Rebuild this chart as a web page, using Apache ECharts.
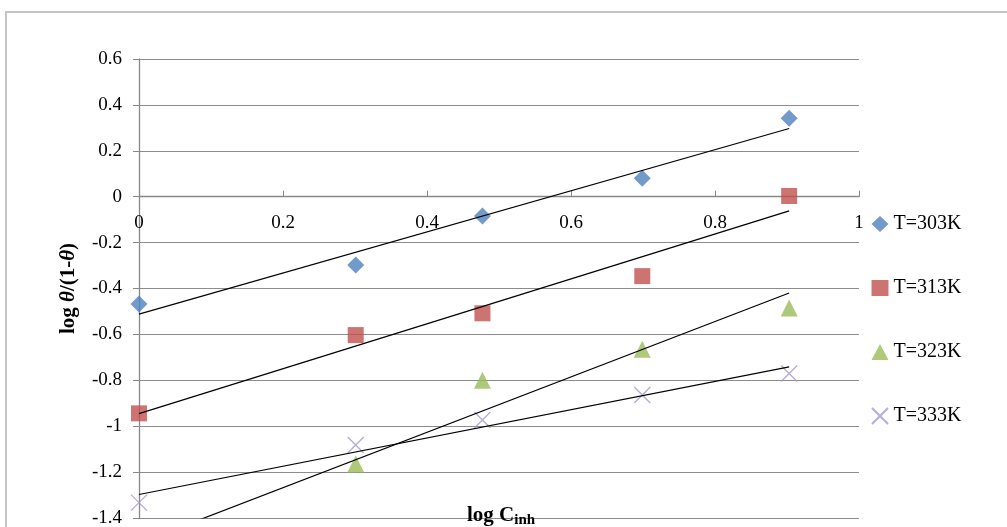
<!DOCTYPE html>
<html>
<head>
<meta charset="utf-8">
<script src="https://cdn.jsdelivr.net/npm/echarts@6/dist/echarts.min.js"></script>
<style>
  html, body { margin: 0; padding: 0; background: #fff; }
  #chart { width: 1007px; height: 527px; }
</style>
</head>
<body>
<div id="chart"></div>
<script>
// log C_inh values
var logC = [0, 0.301, 0.477, 0.699, 0.903];
// log theta/(1-theta) per temperature
var t303 = [-0.467, -0.298, -0.084, 0.080, 0.342];
var t313 = [-0.944, -0.603, -0.508, -0.346, 0.003];
var t323 = [-1.56, -1.165, -0.800, -0.665, -0.485];
var t333 = [-1.333, -1.082, -0.973, -0.864, -0.770];
var names = ['T=303K', 'T=313K', 'T=323K', 'T=333K'];
var colors = ['#4F81BD', '#C0504D', '#9BBB59', '#A597C8'];
var yTicks = [-1.4, 0.6, 0.2];   // min, max, step
var xTicks = [0, 1, 0.2];

var font = '"Liberation Serif", "Times New Roman", serif';

// plot box
var gTop = 59, gBottom = 9, H = 527;
var plotH = H - gTop - gBottom;
// x axis sits where y = 0
var zeroY = gTop + plotH * (yTicks[1] / (yTicks[1] - yTicks[0]));
var xOffset = -((H - gBottom) - zeroY);

function pairs(xs, ys) {
  return xs.map(function (x, i) { return [x, ys[i]]; });
}

// linear trendline, like Excel's
function trend(xs, ys) {
  var n = xs.length, mx = 0, my = 0, sxy = 0, sxx = 0;
  for (var i = 0; i < n; i++) { mx += xs[i] / n; my += ys[i] / n; }
  for (var j = 0; j < n; j++) {
    sxy += (xs[j] - mx) * (ys[j] - my);
    sxx += (xs[j] - mx) * (xs[j] - mx);
  }
  var k = sxy / sxx, b = my - k * mx;
  var x0 = Math.min.apply(null, xs), x1 = Math.max.apply(null, xs);
  return [[x0, k * x0 + b], [x1, k * x1 + b]];
}

var sets = [t303, t313, t323, t333];
var symbols = ['diamond', 'rect', 'triangle', 'path://M0,0L10,10M10,0L0,10'];
var sizes = [17, 16, 17, 16];

var series = [];
sets.forEach(function (ys, i) {
  var st = { color: colors[i] };
  if (i === 3) st = { color: 'transparent', borderColor: colors[i], borderWidth: 1.4 };
  series.push({
    name: names[i],
    type: 'scatter',
    data: pairs(logC, ys),
    symbol: symbols[i],
    symbolSize: sizes[i],
    itemStyle: st,
    z: 3
  });
});
sets.forEach(function (ys) {
  series.push({
    type: 'line',
    data: trend(logC, ys),
    showSymbol: false,
    symbol: 'none',
    silent: true,
    lineStyle: { color: '#000', width: 1.2 },
    z: 4
  });
});

var chart = echarts.init(document.getElementById('chart'));
chart.setOption({
  animation: false,
  backgroundColor: '#fff',
  textStyle: { fontFamily: font },
  grid: { left: 139, right: 148, top: gTop, bottom: gBottom, outerBoundsMode: 'none' },
  legend: {
    orient: 'vertical',
    left: 866,
    top: 209,
    itemGap: 44,
    itemWidth: 17,
    itemHeight: 16,
    data: names,
    textStyle: { fontFamily: font, fontSize: 20, color: '#000' }
  },
  xAxis: {
    type: 'value',
    min: xTicks[0], max: xTicks[1], interval: xTicks[2],
    offset: xOffset,
    axisLine: { onZero: false, lineStyle: { color: '#888', width: 1.3 } },
    axisTick: { show: true, inside: true, length: 6, lineStyle: { color: '#888' } },
    axisLabel: { color: '#000', fontSize: 19, fontFamily: font, margin: 17 },
    splitLine: { show: false }
  },
  yAxis: {
    type: 'value',
    min: yTicks[0], max: yTicks[1], interval: yTicks[2],
    axisLine: { show: true, lineStyle: { color: '#888', width: 1.3 } },
    axisTick: { show: true, length: 6, lineStyle: { color: '#888' } },
    axisLabel: { color: '#000', fontSize: 19, fontFamily: font, margin: 17 },
    splitLine: { lineStyle: { color: '#8c8c8c', width: 1 } },
    name: 'log {i|θ}/(1-{i|θ})',
    nameLocation: 'middle',
    nameGap: 60,
    nameTextStyle: {
      fontFamily: font, fontSize: 21, fontWeight: 'bold', color: '#000',
      rich: { i: { fontFamily: font, fontSize: 21, fontWeight: 'bold', fontStyle: 'italic' } }
    }
  },
  graphic: [
    {
      type: 'rect',
      shape: { x: 6, y: 12, width: 1100, height: 600 },
      style: { fill: 'none', stroke: '#c4c4c4', lineWidth: 2 },
      silent: true, z: -1
    },
    {
      type: 'text',
      left: 467, top: 505,
      style: {
        text: 'log C{s|inh}',
        fontFamily: font, fontSize: 21, fontWeight: 'bold', fill: '#000',
        rich: { s: { fontFamily: font, fontSize: 15, fontWeight: 'bold', padding: [9, 0, 0, 0] } }
      },
      z: 10
    }
  ],
  series: series
});
</script>
</body>
</html>
